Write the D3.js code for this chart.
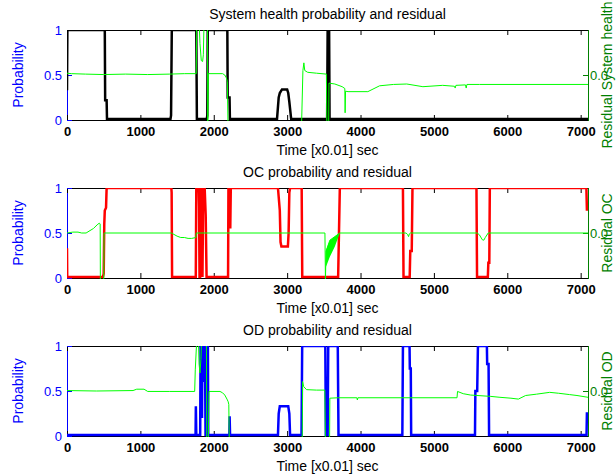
<!DOCTYPE html>
<html>
<head>
<meta charset="utf-8">
<script src="https://cdn.jsdelivr.net/npm/d3@7"></script>
<style>
  body { margin: 0; background: #fff; }
  svg { font-family: "Liberation Sans", Arial, sans-serif; }
</style>
</head>
<body>
<svg id="chart" width="616" height="476"></svg>
<script>
// three stacked plotyy-style panels: probability (left) + residual (right)

const timeTicks = [0, 1000, 2000, 3000, 4000, 5000, 6000, 7000];
const probTicks = [0, 0.5, 1];
const resTicks = [0];
const titles = ["System health probability and residual", "OC probability and residual", "OD probability and residual"];
const resLabels = ["Residual System health", "Residual OC", "Residual OD"];
const xLabel = "Time [x0.01] sec";
const yLabel = "Probability";

// [time, probability]
const healthProb = [[0,0.33],[5,1],[515,1],[520,0.22],[540,0.22],[545,0.01],[1410,0.01],[1418,0.05],[1428,1],
  [1762,1],[1770,0.01],[1905,0.01],[1912,0.05],[1918,1],[2185,1],[2190,0.25],[2215,0.25],[2220,0.01],
  [2862,0.01],[2885,0.25],[2900,0.3],[2930,0.34],[3000,0.34],[3015,0.3],[3030,0.2],[3055,0.01],
  [3545,0.01],[3552,1],[3572,1],[3578,0.01],[7100,0.01]];

// [time, residual]  (residual axis shows only its 0 level)
const healthRes = [[0,0.04],[60,0.03],[250,0.02],[500,0.01],[800,0.02],[1100,0.01],[1400,0.02],[1600,0.03],[1762,0.03],
  [1768,1.2],[1800,1.2],[1812,0.7],[1830,0.32],[1848,0.3],[1858,0.45],[1868,1.2],[1914,1.2],[1918,-1.2],[1926,0.03],
  [2120,0.03],[2150,0.0],[2170,-0.06],[2185,-0.14],[2195,-1.2],[3195,-1.2],[3215,0.1],[3228,0.27],[3240,0.1],
  [3280,0.06],[3400,0.04],[3535,0.02],[3542,-1.2],[3566,-1.2],[3570,-0.18],[3650,-0.2],[3750,-0.26],[3786,-0.3],
  [3790,-0.84],[3796,-0.36],[3830,-0.37],[4100,-0.37],[4260,-0.24],[4450,-0.21],[4630,-0.2],[4850,-0.26],
  [5120,-0.23],[5280,-0.25],[5290,-0.29],[5300,-0.23],[5430,-0.22],[5440,-0.29],[5450,-0.21],[5620,-0.21],[7100,-0.21]];

const ocProb = [[0,0.33],[3,0.01],[490,0.01],[500,0.05],[508,0.6],[515,0.75],[532,0.78],[540,1],[1422,1],
  [1426,0.95],[1432,0.01],[1755,0.01],[1762,1],[1795,1],[1800,0.8],[1806,0.01],[1814,0.01],[1820,1],
  [1830,0.75],[1838,1],[1846,0.01],[1856,1],[1866,0.8],[1876,1],[1890,0.7],[1902,0.01],[2195,0.01],
  [2200,1],[2205,0.55],[2210,1],[2215,0.6],[2220,1],[2225,0.55],[2232,1],[2875,1],[2885,0.9],
  [2900,0.75],[2910,0.4],[2922,0.35],[3010,0.35],[3020,0.5],[3030,0.95],[3040,1],[3198,1],[3206,0.01],
  [3695,0.01],[3718,1],[4578,1],[4586,0.01],[4670,0.01],[4678,0.3],[4698,0.3],[4708,1],[5580,1],
  [5588,0.01],[5735,0.01],[5742,0.17],[5755,0.17],[5762,1],[7078,1],[7085,0.76],[7100,0.76]];

const ocRes = [[0,0.0],[80,0.02],[150,0.02],[200,0.0],[260,0.0],[300,0.04],[360,0.1],[410,0.18],[440,0.22],[452,0.2],
  [455,-1.2],[500,-1.2],[505,0.0],[1426,0.0],[1445,-0.02],[1500,-0.07],[1550,-0.1],[1600,-0.1],[1650,-0.12],
  [1700,-0.12],[1757,-0.1],[1762,0.0],[3515,0.0],[3522,-1.05],[3530,-0.4],[3536,-0.38],[3582,-0.16],[3650,-0.08],
  [3718,0.0],[4620,0.0],[4640,-0.03],[4655,-0.08],[4665,-0.02],[4680,0.0],[5590,0.0],[5620,-0.04],[5660,-0.15],
  [5680,-0.16],[5700,-0.1],[5740,0.0],[7100,0.0]];

// [time, low, high] envelope of the fast residual oscillation after 3500
const ocResBand = [[3530,-0.75,-0.38],[3582,-0.53,-0.16],[3650,-0.3,-0.08],[3718,0,0]];

const odProb = [[0,0.01],[1752,0.01],[1756,0.33],[1762,0.01],[1815,0.01],[1820,1],[1835,0.6],[1840,0.2],[1845,1],
  [1860,1],[1865,0.6],[1870,1],[1880,1],[1888,0.01],[1905,0.01],[1912,1],[1920,1],[1925,0.01],
  [2212,0.01],[2216,0.22],[2222,0.01],[2875,0.01],[2885,0.25],[2900,0.33],[3015,0.33],[3030,0.25],[3040,0.01],
  [3196,0.01],[3205,1],[3520,1],[3528,0.01],[3552,0.01],[3560,1],[3690,1],[3700,0.01],[4570,0.01],
  [4578,1],[4668,1],[4672,0.75],[4685,0.75],[4690,0.01],[5560,0.01],[5565,0.5],[5590,0.5],[5600,1],
  [5722,1],[5726,0.8],[5745,0.8],[5752,0.01],[7080,0.01],[7085,0.25],[7100,0.25]];

const odRes = [[0,0.01],[400,0.0],[900,0.01],[950,0.04],[1050,0.04],[1100,-0.01],[1400,-0.01],[1740,-0.01],[1748,0.47],
  [1770,1.2],[1790,1.2],[1800,0.6],[1812,0.4],[1825,0.7],[1835,1.2],[1900,1.2],[1905,-1.2],[1925,-1.2],[1935,-0.01],
  [2085,-0.01],[2120,-0.04],[2150,-0.09],[2180,-0.18],[2197,-0.24],[2205,-0.3],[2212,-1.2],[3205,-1.2],[3210,0.21],
  [3225,0.1],[3264,0.03],[3400,0.02],[3514,0.02],[3522,-1.2],[3578,-1.2],[3582,-0.16],[3700,-0.15],[3950,-0.15],
  [3957,-0.2],[3964,-0.15],[5315,-0.15],[5322,-0.01],[5400,-0.06],[5500,-0.09],[5775,-0.12],[5900,-0.14],
  [6050,-0.16],[6151,-0.18],[6250,-0.1],[6400,-0.07],[6578,-0.03],[6700,-0.05],[6850,-0.08],[6950,-0.1],[7100,-0.14]];

const panels = [
  {title: titles[0], resLabel: resLabels[0], prob: healthProb, res: healthRes, band: [], color: "#000000"},
  {title: titles[1], resLabel: resLabels[1], prob: ocProb, res: ocRes, band: ocResBand, color: "#ff0000"},
  {title: titles[2], resLabel: resLabels[2], prob: odProb, res: odRes, band: [], color: "#0000ff"}
];

const left = 67, plotW = 521, plotH = 90;
const tops = [30, 188, 346];
const leftColor = "#0000ff";
const rightColor = "#008000";
const resLine = "#00ff00";
const font = "Liberation Sans, Arial, sans-serif";

const svg = d3.select("#chart");
svg.append("rect").attr("width", 616).attr("height", 476).attr("fill", "#fff");

const x = d3.scaleLinear().domain([0, 7100]).range([0, plotW]);
const yProb = d3.scaleLinear().domain([0, 1]).range([plotH, 0]);
const yRes = d3.scaleLinear().domain([-1, 1]).range([plotH, 0]);

const probLine = d3.line().x(d => x(d[0])).y(d => yProb(d[1]));
const resPath = d3.line().x(d => x(d[0])).y(d => yRes(d[1]));
const resArea = d3.area().x(d => x(d[0])).y0(d => yRes(d[1])).y1(d => yRes(d[2]));

panels.forEach((p, i) => {
    const g = svg.append("g").attr("transform", `translate(${left},${tops[i]})`);

    g.append("clipPath").attr("id", "clip" + i)
      .append("rect").attr("width", plotW + 1).attr("height", plotH + 1);

    // box first, data goes over it
    g.append("line").attr("x1", 0).attr("x2", plotW).attr("y1", 0.5).attr("y2", 0.5).attr("stroke", "#000");
    g.append("line").attr("x1", 0).attr("x2", plotW).attr("y1", plotH + 0.5).attr("y2", plotH + 0.5).attr("stroke", "#000");
    g.append("line").attr("x1", 0.5).attr("x2", 0.5).attr("y1", 0).attr("y2", plotH + 1).attr("stroke", leftColor);
    g.append("line").attr("x1", plotW + 0.5).attr("x2", plotW + 0.5).attr("y1", 0).attr("y2", plotH + 1).attr("stroke", rightColor);

    // axes (ticks point inward, like matlab)
    const xb = g.append("g").attr("class", "x axis")
        .attr("transform", `translate(0,${plotH})`)
        .call(d3.axisBottom(x).tickValues(timeTicks).tickSize(-5).tickPadding(7).tickFormat(d3.format("d")));
    xb.select(".domain").remove();
    xb.selectAll("text").attr("font-size", 13).attr("font-weight", "bold").attr("fill", "#000")
      .attr("font-family", font);

    const xt = g.append("g")
        .call(d3.axisTop(x).tickValues(timeTicks).tickSize(-5).tickFormat(""));
    xt.select(".domain").remove();

    const yl = g.append("g")
        .call(d3.axisLeft(yProb).tickValues(probTicks).tickSize(-5).tickPadding(5).tickFormat(d3.format("")));
    yl.select(".domain").remove();
    yl.selectAll("line").attr("stroke", leftColor);
    yl.selectAll("text").attr("font-size", 13).attr("fill", leftColor).attr("font-family", font);

    const yr = g.append("g").attr("transform", `translate(${plotW},0)`)
        .call(d3.axisRight(yRes).tickValues(resTicks).tickSize(-5).tickPadding(2));
    yr.select(".domain").remove();
    yr.selectAll("line").attr("stroke", rightColor);
    yr.selectAll("text").attr("font-size", 13).attr("fill", rightColor).attr("font-family", font);

    // probability (clipped to the box)
    g.append("path").datum(p.prob)
      .attr("d", probLine)
      .attr("fill", "none")
      .attr("stroke", p.color)
      .attr("stroke-width", 2.5)
      .attr("clip-path", `url(#clip${i})`);

    // residual
    if (p.band.length) {
        g.append("path").datum(p.band)
          .attr("d", resArea)
          .attr("fill", resLine)
          .attr("clip-path", `url(#clip${i})`);
    }
    g.append("path").datum(p.res)
      .attr("d", resPath)
      .attr("fill", "none")
      .attr("stroke", resLine)
      .attr("stroke-width", 1)
      .attr("clip-path", `url(#clip${i})`);

    // texts
    g.append("text").text(p.title)
      .attr("x", plotW / 2).attr("y", -11)
      .attr("text-anchor", "middle").attr("font-size", 14).attr("fill", "#000");

    g.append("text").text(xLabel)
      .attr("x", plotW / 2).attr("y", plotH + 35)
      .attr("text-anchor", "middle").attr("font-size", 14).attr("fill", "#000");

    g.append("text").text(yLabel)
      .attr("transform", `translate(${23 - left},${plotH / 2}) rotate(-90)`)
      .attr("text-anchor", "middle").attr("font-size", 14).attr("fill", leftColor);

    g.append("text").text(p.resLabel)
      .attr("transform", `translate(${612 - left},${plotH / 2}) rotate(-90)`)
      .attr("text-anchor", "middle").attr("font-size", 14).attr("fill", rightColor);
});
</script>
</body>
</html>
